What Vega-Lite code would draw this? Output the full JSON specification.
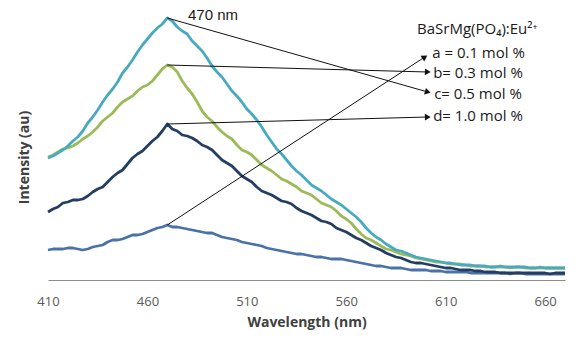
{
  "$schema": "https://vega.github.io/schema/vega-lite/v6.json",
  "width": 517,
  "height": 270,
  "autosize": {"type": "none"},
  "padding": {"left": 48, "top": 10, "right": 17, "bottom": 62},
  "background": "white",
  "config": {"view": {"stroke": null}, "font": "Open Sans"},
  "datasets": {
    "spectra": [
      {"nm": 410, "a": 30, "b": 123, "c": 122, "d": 68},
      {"nm": 415, "a": 31, "b": 128, "c": 127, "d": 73},
      {"nm": 420, "a": 32, "b": 132, "c": 134, "d": 78},
      {"nm": 425, "a": 31, "b": 137, "c": 143, "d": 80},
      {"nm": 430, "a": 31, "b": 144, "c": 157, "d": 84},
      {"nm": 435, "a": 34, "b": 153, "c": 170, "d": 91},
      {"nm": 440, "a": 38, "b": 163, "c": 185, "d": 98},
      {"nm": 445, "a": 40, "b": 173, "c": 198, "d": 107},
      {"nm": 450, "a": 43, "b": 181, "c": 213, "d": 116},
      {"nm": 455, "a": 45, "b": 189, "c": 228, "d": 126},
      {"nm": 460, "a": 48, "b": 195, "c": 241, "d": 134},
      {"nm": 465, "a": 52, "b": 205, "c": 252, "d": 143},
      {"nm": 470, "a": 55, "b": 215, "c": 262, "d": 156},
      {"nm": 475, "a": 53, "b": 208, "c": 253, "d": 149},
      {"nm": 480, "a": 51, "b": 192, "c": 246, "d": 144},
      {"nm": 485, "a": 49, "b": 178, "c": 234, "d": 139},
      {"nm": 490, "a": 47, "b": 163, "c": 222, "d": 133},
      {"nm": 495, "a": 45, "b": 153, "c": 208, "d": 125},
      {"nm": 500, "a": 42, "b": 144, "c": 196, "d": 117},
      {"nm": 505, "a": 40, "b": 135, "c": 184, "d": 109},
      {"nm": 510, "a": 37, "b": 128, "c": 171, "d": 101},
      {"nm": 515, "a": 35, "b": 120, "c": 160, "d": 93},
      {"nm": 520, "a": 32, "b": 112, "c": 145, "d": 87},
      {"nm": 525, "a": 30, "b": 105, "c": 131, "d": 82},
      {"nm": 530, "a": 28, "b": 99, "c": 120, "d": 78},
      {"nm": 535, "a": 26, "b": 93, "c": 109, "d": 72},
      {"nm": 540, "a": 25, "b": 87, "c": 100, "d": 67},
      {"nm": 545, "a": 23, "b": 81, "c": 92, "d": 62},
      {"nm": 550, "a": 22, "b": 75, "c": 85, "d": 58},
      {"nm": 555, "a": 21, "b": 69, "c": 78, "d": 52},
      {"nm": 560, "a": 20, "b": 61, "c": 71, "d": 48},
      {"nm": 565, "a": 18, "b": 51, "c": 63, "d": 42},
      {"nm": 570, "a": 16, "b": 42, "c": 52, "d": 37},
      {"nm": 575, "a": 14, "b": 37, "c": 43, "d": 32},
      {"nm": 580, "a": 13, "b": 31, "c": 36, "d": 27},
      {"nm": 585, "a": 12, "b": 28, "c": 30, "d": 23},
      {"nm": 590, "a": 11, "b": 25, "c": 27, "d": 20},
      {"nm": 595, "a": 10, "b": 22, "c": 23, "d": 17},
      {"nm": 600, "a": 10, "b": 20, "c": 21, "d": 16},
      {"nm": 605, "a": 9, "b": 18, "c": 19, "d": 14},
      {"nm": 610, "a": 8, "b": 17, "c": 17, "d": 12},
      {"nm": 615, "a": 8, "b": 16, "c": 16, "d": 11},
      {"nm": 620, "a": 8, "b": 15, "c": 15, "d": 10},
      {"nm": 625, "a": 7, "b": 14, "c": 14, "d": 9},
      {"nm": 630, "a": 7, "b": 13, "c": 14, "d": 8},
      {"nm": 635, "a": 7, "b": 13, "c": 13, "d": 8},
      {"nm": 640, "a": 7, "b": 13, "c": 13, "d": 7},
      {"nm": 645, "a": 7, "b": 13, "c": 13, "d": 7},
      {"nm": 650, "a": 6, "b": 12, "c": 13, "d": 7},
      {"nm": 655, "a": 6, "b": 12, "c": 12, "d": 7},
      {"nm": 660, "a": 6, "b": 12, "c": 12, "d": 7},
      {"nm": 665, "a": 6, "b": 12, "c": 12, "d": 7},
      {"nm": 670, "a": 6, "b": 12, "c": 12, "d": 7},
      {"nm": 412.5, "a": 31, "b": 125, "c": 124, "d": 71},
      {"nm": 417.5, "a": 31, "b": 131, "c": 130, "d": 77},
      {"nm": 422.5, "a": 32, "b": 134, "c": 139, "d": 80},
      {"nm": 427.5, "a": 30, "b": 141, "c": 149, "d": 81},
      {"nm": 432.5, "a": 33, "b": 148, "c": 163, "d": 88},
      {"nm": 437.5, "a": 35, "b": 159, "c": 178, "d": 93},
      {"nm": 442.5, "a": 40, "b": 167, "c": 191, "d": 103},
      {"nm": 447.5, "a": 41, "b": 178, "c": 207, "d": 110},
      {"nm": 452.5, "a": 45, "b": 184, "c": 220, "d": 122},
      {"nm": 457.5, "a": 46, "b": 193, "c": 235, "d": 129},
      {"nm": 462.5, "a": 50, "b": 199, "c": 247, "d": 139},
      {"nm": 467.5, "a": 53, "b": 211, "c": 256, "d": 149},
      {"nm": 472.5, "a": 53, "b": 213, "c": 259, "d": 151},
      {"nm": 477.5, "a": 52, "b": 199, "c": 249, "d": 145},
      {"nm": 482.5, "a": 50, "b": 186, "c": 239, "d": 142},
      {"nm": 487.5, "a": 48, "b": 169, "c": 229, "d": 135},
      {"nm": 492.5, "a": 47, "b": 159, "c": 214, "d": 130},
      {"nm": 497.5, "a": 43, "b": 148, "c": 203, "d": 120},
      {"nm": 502.5, "a": 41, "b": 141, "c": 189, "d": 114},
      {"nm": 507.5, "a": 38, "b": 130, "c": 178, "d": 104},
      {"nm": 512.5, "a": 36, "b": 125, "c": 166, "d": 98},
      {"nm": 517.5, "a": 34, "b": 115, "c": 153, "d": 89},
      {"nm": 522.5, "a": 31, "b": 109, "c": 138, "d": 85},
      {"nm": 527.5, "a": 29, "b": 101, "c": 126, "d": 79},
      {"nm": 532.5, "a": 27, "b": 96, "c": 114, "d": 76},
      {"nm": 537.5, "a": 26, "b": 89, "c": 105, "d": 69},
      {"nm": 542.5, "a": 24, "b": 85, "c": 95, "d": 65},
      {"nm": 547.5, "a": 23, "b": 77, "c": 89, "d": 59},
      {"nm": 552.5, "a": 21, "b": 73, "c": 81, "d": 56},
      {"nm": 557.5, "a": 21, "b": 64, "c": 75, "d": 50},
      {"nm": 562.5, "a": 19, "b": 57, "c": 67, "d": 45},
      {"nm": 567.5, "a": 17, "b": 46, "c": 58, "d": 40},
      {"nm": 572.5, "a": 15, "b": 40, "c": 47, "d": 34},
      {"nm": 577.5, "a": 14, "b": 34, "c": 40, "d": 30},
      {"nm": 582.5, "a": 12, "b": 30, "c": 33, "d": 25},
      {"nm": 587.5, "a": 12, "b": 26, "c": 29, "d": 22},
      {"nm": 592.5, "a": 10, "b": 24, "c": 25, "d": 18},
      {"nm": 597.5, "a": 10, "b": 21, "c": 22, "d": 17},
      {"nm": 602.5, "a": 9, "b": 19, "c": 20, "d": 15},
      {"nm": 607.5, "a": 9, "b": 18, "c": 18, "d": 13},
      {"nm": 612.5, "a": 8, "b": 16, "c": 17, "d": 12},
      {"nm": 617.5, "a": 8, "b": 16, "c": 15, "d": 10},
      {"nm": 622.5, "a": 7, "b": 14, "c": 15, "d": 10},
      {"nm": 627.5, "a": 7, "b": 14, "c": 14, "d": 9},
      {"nm": 632.5, "a": 7, "b": 13, "c": 13, "d": 8},
      {"nm": 637.5, "a": 7, "b": 13, "c": 14, "d": 7},
      {"nm": 642.5, "a": 6, "b": 12, "c": 13, "d": 7},
      {"nm": 647.5, "a": 7, "b": 13, "c": 13, "d": 7},
      {"nm": 652.5, "a": 6, "b": 12, "c": 12, "d": 7},
      {"nm": 657.5, "a": 6, "b": 12, "c": 13, "d": 7},
      {"nm": 662.5, "a": 6, "b": 12, "c": 12, "d": 6},
      {"nm": 667.5, "a": 6, "b": 12, "c": 12, "d": 7}
    ],
    "arrows": [
      {"series": "a", "x1": 470, "y1": 55, "x2": 599.5, "y2": 223},
      {"series": "b", "x1": 470, "y1": 215, "x2": 601, "y2": 208},
      {"series": "c", "x1": 470, "y1": 262, "x2": 601, "y2": 188},
      {"series": "d", "x1": 470, "y1": 156, "x2": 601, "y2": 163}
    ],
    "labels": [
      {"label": "BaSrMg(PO₄):Eu²⁺", "nm": 595.6, "intensity": 251},
      {"label": "a = 0.1 mol %", "nm": 603.2, "intensity": 227.5},
      {"label": "b= 0.3 mol %", "nm": 603.7, "intensity": 207.5},
      {"label": "c= 0.5 mol %", "nm": 604.2, "intensity": 186},
      {"label": "d= 1.0 mol %", "nm": 603.7, "intensity": 164}
    ]
  },
  "layer": [
    {
      "data": {"name": "spectra"},
      "transform": [{"fold": ["a", "b", "c", "d"], "as": ["series", "intensity"]}],
      "mark": {"type": "line", "strokeWidth": 2.8, "strokeJoin": "round"},
      "encoding": {
        "x": {
          "field": "nm", "type": "quantitative",
          "scale": {"domain": [410, 670], "nice": false, "zero": false},
          "axis": {
            "values": [410, 460, 510, 560, 610, 660],
            "title": "Wavelength (nm)",
            "grid": false, "ticks": false, "tickSize": 0,
            "labelPadding": 15, "labelFontSize": 13, "labelColor": "#595959",
            "labelFlush": false,
            "domainColor": "#8c8c8c", "domainWidth": 1,
            "titleFontSize": 14, "titleFontWeight": "bold", "titleColor": "#404040",
            "titleBaseline": "middle", "titleY": 42
          }
        },
        "y": {
          "field": "intensity", "type": "quantitative",
          "scale": {"domain": [0, 270], "nice": false},
          "axis": {
            "title": "Intensity (au)", "labels": false, "ticks": false, "domain": false, "grid": false,
            "titleFontSize": 14, "titleFontWeight": "bold", "titleColor": "#404040",
            "titleX": -24, "titleY": 147, "titleAngle": 270, "titleAlign": "center", "titleBaseline": "middle"
          }
        },
        "color": {
          "field": "series", "type": "nominal",
          "scale": {"domain": ["a", "b", "c", "d"], "range": ["#4A72A8", "#9BBB59", "#48AABF", "#233E62"]},
          "legend": null
        }
      }
    },
    {
      "data": {"name": "arrows"},
      "mark": {"type": "rule", "color": "#111111", "strokeWidth": 1},
      "encoding": {
        "x": {"field": "x1", "type": "quantitative"},
        "x2": {"field": "x2"},
        "y": {"field": "y1", "type": "quantitative"},
        "y2": {"field": "y2"}
      }
    },
    {
      "data": {"values": [{"nm": 599.5, "intensity": 223}]},
      "mark": {"type": "point", "shape": "triangle-right", "filled": true, "size": 45, "angle": -33, "color": "#111111", "opacity": 1},
      "encoding": {"x": {"field": "nm", "type": "quantitative"}, "y": {"field": "intensity", "type": "quantitative"}}
    },
    {
      "data": {"values": [{"nm": 601, "intensity": 208}]},
      "mark": {"type": "point", "shape": "triangle-right", "filled": true, "size": 45, "angle": 1.5, "color": "#111111", "opacity": 1},
      "encoding": {"x": {"field": "nm", "type": "quantitative"}, "y": {"field": "intensity", "type": "quantitative"}}
    },
    {
      "data": {"values": [{"nm": 601, "intensity": 188}]},
      "mark": {"type": "point", "shape": "triangle-right", "filled": true, "size": 45, "angle": 16, "color": "#111111", "opacity": 1},
      "encoding": {"x": {"field": "nm", "type": "quantitative"}, "y": {"field": "intensity", "type": "quantitative"}}
    },
    {
      "data": {"values": [{"nm": 601, "intensity": 163}]},
      "mark": {"type": "point", "shape": "triangle-right", "filled": true, "size": 45, "angle": -1.5, "color": "#111111", "opacity": 1},
      "encoding": {"x": {"field": "nm", "type": "quantitative"}, "y": {"field": "intensity", "type": "quantitative"}}
    },
    {
      "data": {"values": [{"label": "470 nm", "nm": 480.4, "intensity": 265}]},
      "mark": {"type": "text", "align": "left", "baseline": "middle", "font": "Liberation Sans", "fontSize": 15, "color": "#1a1a1a"},
      "encoding": {
        "x": {"field": "nm", "type": "quantitative"},
        "y": {"field": "intensity", "type": "quantitative"},
        "text": {"field": "label"}
      }
    },
    {
      "data": {"name": "labels"},
      "mark": {"type": "text", "align": "left", "baseline": "middle", "font": "Open Sans", "fontSize": 15, "color": "#1a1a1a"},
      "encoding": {
        "x": {"field": "nm", "type": "quantitative"},
        "y": {"field": "intensity", "type": "quantitative"},
        "text": {"field": "label"}
      }
    }
  ]
}
